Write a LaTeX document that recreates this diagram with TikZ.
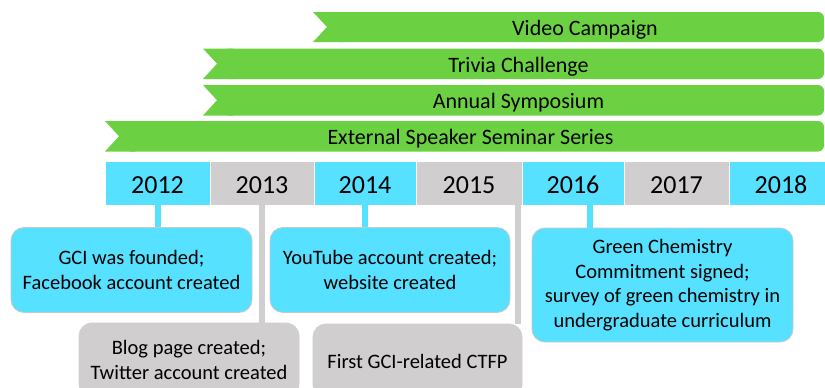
\documentclass[tikz,border=0pt]{standalone}
\usepackage{fontspec}
\setmainfont{Carlito}
\usetikzlibrary{calc}
\definecolor{bannergreen}{RGB}{108,209,66}
\definecolor{yearcyan}{RGB}{85,225,255}
\definecolor{yeargrey}{RGB}{208,206,206}
\definecolor{edgegrey}{RGB}{200,200,200}
\tikzset{
  bannertext/.style={font=\fontsize{22}{26}\selectfont, inner sep=0pt, anchor=base},
  yearcell/.style={draw=white, line width=0.8pt, minimum height=43.5pt, inner sep=0pt,
    text height=19.5pt, text depth=0pt, font=\fontsize{26}{30}\selectfont},
  eventbox/.style={rounded corners=13pt, draw=edgegrey, line width=0.8pt, align=center,
    inner sep=0pt, font=\fontsize{20.5}{24.5}\selectfont},
  cyanbox/.style={eventbox, fill=yearcyan},
  greybox/.style={eventbox, fill=yeargrey, draw=yeargrey},
  cyanlink/.style={draw=yearcyan, line width=6pt},
  greylink/.style={draw=yeargrey, line width=6pt},
}
% banner with a notched left end and a rounded right end
\newcommand{\banner}[3]{% #1 left x, #2 top y, #3 bottom y
  \fill[bannergreen, rounded corners=6pt] ($(#1,#2)+(20,0)$) rectangle (824,#3);
  \fill[bannergreen] (#1,#2) -- ++(30,0) -- (#1+30,#3) -- (#1,#3) -- (#1+14,{(#2+#3)/2}) -- cycle;
}
\begin{document}
\begin{tikzpicture}[x=1pt, y=-1pt]
\clip (0,0) rectangle (825,388);
\fill[white] (0,0) rectangle (825,388);

% activity banners
\banner{313}{12}{42}
\banner{203}{48.5}{79}
\banner{203}{85}{115.5}
\banner{105}{121}{151.5}
\node[bannertext] (video) at (585,35.5) {Video Campaign};
\node[bannertext] (trivia) at (518.5,72) {Trivia Challenge};
\node[bannertext] (symp) at (518.5,108.5) {Annual Symposium};
\node[bannertext] (seminar) at (470.5,144.5) {External Speaker Seminar Series};

% year scale
\node[yearcell, fill=yearcyan, minimum width=105pt] (y12) at (157.5,183.25) {2012};
\node[yearcell, fill=yeargrey, minimum width=104pt] (y13) at (262,183.25) {2013};
\node[yearcell, fill=yearcyan, minimum width=102pt] (y14) at (365,183.25) {2014};
\node[yearcell, fill=yeargrey, minimum width=106pt] (y15) at (469,183.25) {2015};
\node[yearcell, fill=yearcyan, minimum width=102pt] (y16) at (573,183.25) {2016};
\node[yearcell, fill=yeargrey, minimum width=105pt] (y17) at (676.5,183.25) {2017};
\node[yearcell, fill=yearcyan, minimum width=104pt] (y18) at (781,183.25) {2018};

% events
\node[cyanbox, minimum width=241pt, minimum height=85pt] (gci) at (131.5,270)
  {GCI was founded;\\Facebook account created};
\node[cyanbox, minimum width=240pt, minimum height=85pt] (yt) at (390,270)
  {YouTube account created;\\website created};
\node[cyanbox, minimum width=261pt, minimum height=114pt] (gcc) at (662.5,285)
  {Green Chemistry\\Commitment signed;\\survey of green chemistry in\\undergraduate curriculum};
\node[greybox, minimum width=220pt, minimum height=74pt] (blog) at (189,360)
  {Blog page created;\\Twitter account created};
\node[greybox, minimum width=209pt, minimum height=74pt] (ctfp) at (417.5,361)
  {First GCI-related CTFP};

% links from years to events
\draw[cyanlink] (y12.south) -- (y12.south |- gci.north);
\draw[greylink] (y13.south) -- (y13.south |- blog.north);
\draw[cyanlink] (y14.south) -- (y14.south |- yt.north);
\coordinate (l15) at ($(y15.south east)+(-4,0)$);
\draw[greylink] (l15) -- (l15 |- ctfp.north);
\coordinate (l16) at ($(y16.south)+(17,0)$);
\draw[cyanlink] (l16) -- (l16 |- gcc.north);
\end{tikzpicture}
\end{document}
